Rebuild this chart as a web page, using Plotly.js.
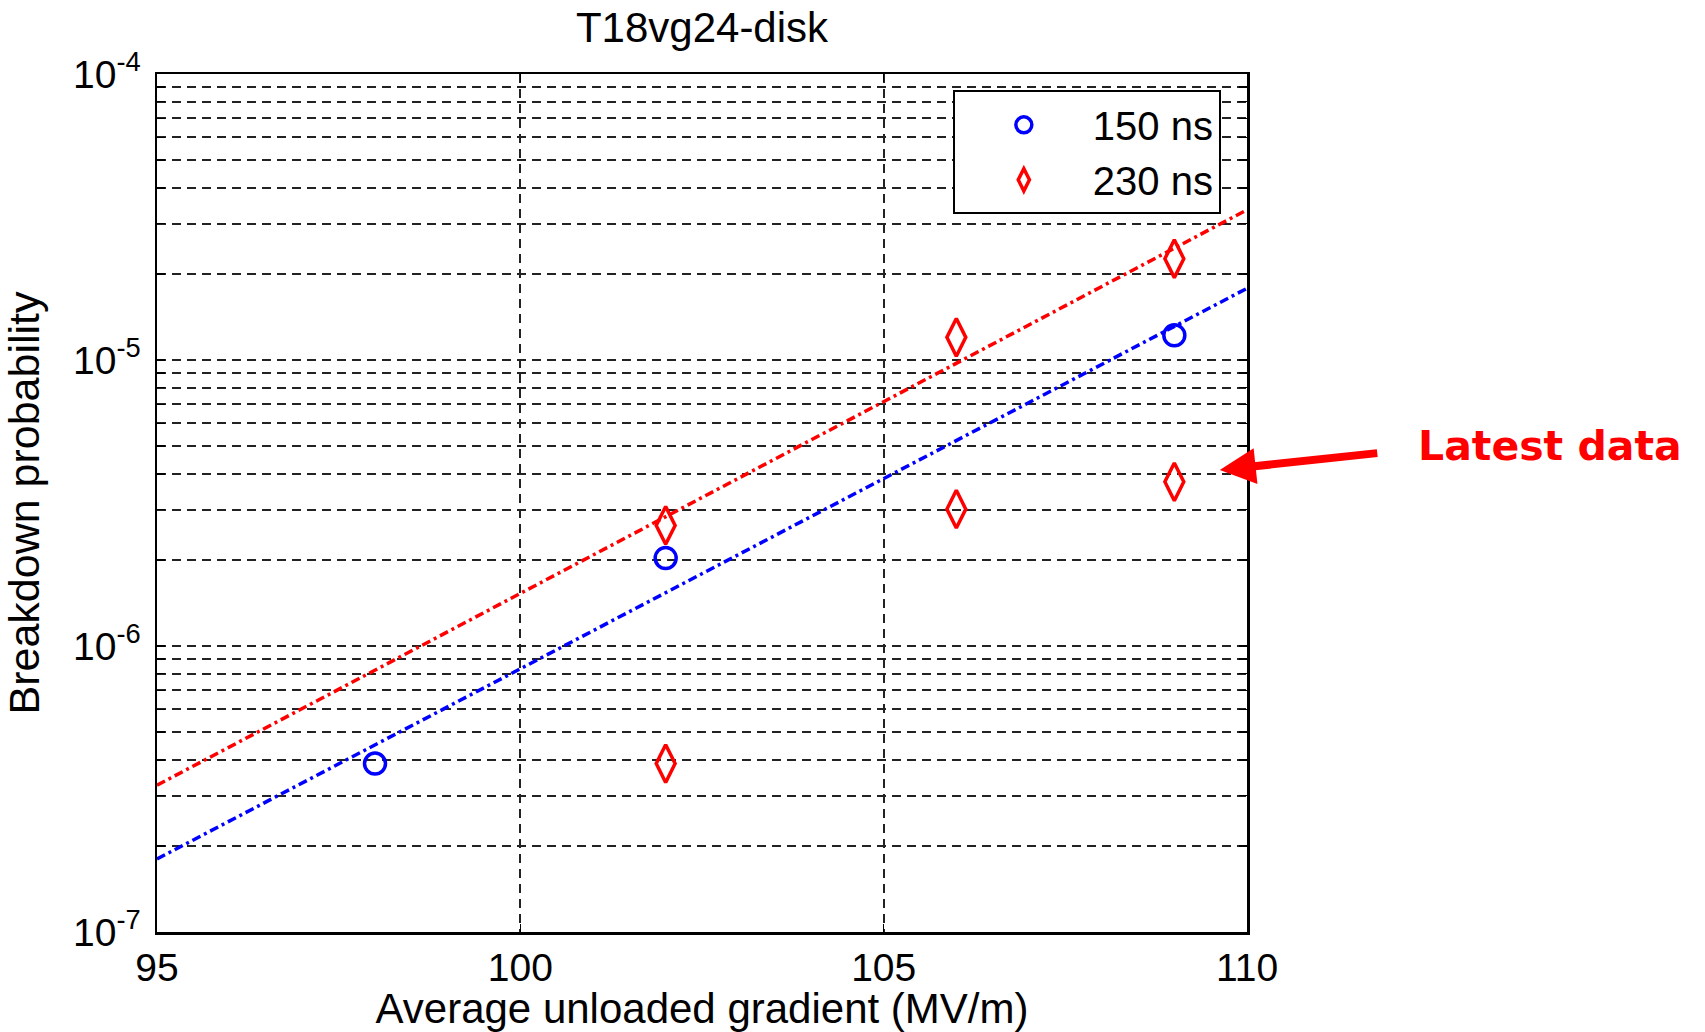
<!DOCTYPE html>
<html>
<head>
<meta charset="utf-8">
<script src="https://cdn.plot.ly/plotly-3.0.1.min.js"></script>
<style>html,body{margin:0;padding:0;background:#fff;}#chart{width:1705px;height:1032px;}</style>
</head>
<body>
<div id="chart"></div>
<script>
// ---- data ----
const x150 = [98, 102, 109];
const y150 = [3.88e-7, 2.03e-6, 1.22e-5];
const x230 = [102, 102, 106, 106, 109, 109];
const y230 = [2.64e-6, 3.88e-7, 1.20e-5, 3.01e-6, 2.26e-5, 3.75e-6];
const fitX = [95, 110];
const fit150 = [1.80e-7, 1.78e-5];
const fit230 = [3.26e-7, 3.35e-5];
const xTicks = [95, 100, 105, 110];
const decades = [-7, -6, -5, -4];
const legendNames = ['150 ns', '230 ns'];
const titleText = 'T18vg24-disk';
const xTitle = 'Average unloaded gradient (MV/m)';
const yTitle = 'Breakdown probability';
const noteText = 'Latest data';

// log-axis tick/grid values (decades plus 2..9 minor positions)
const yTickVals = [];
const yTickText = [];
decades.forEach((d, i) => {
  const mults = (i === decades.length - 1) ? [1] : [1,2,3,4,5,6,7,8,9];
  mults.forEach(m => {
    yTickVals.push(m * Math.pow(10, d));
    yTickText.push(m === 1 ? '10<sup>' + d + '</sup>' : '');
  });
});

const FONT = 'Liberation Sans, Arial, sans-serif';
const GRIDDASH = '9px,6px';
const FITDASH = '9px,4px,3px,4px';

const traces = [
  {x: fitX, y: fit150, mode: 'lines', line: {color: '#0000ff', width: 3.5, dash: FITDASH}, showlegend: false, hoverinfo: 'skip'},
  {x: fitX, y: fit230, mode: 'lines', line: {color: '#ff0000', width: 3.5, dash: FITDASH}, showlegend: false, hoverinfo: 'skip'},
  {x: x150, y: y150, mode: 'markers', name: legendNames[0],
   marker: {symbol: 'circle-open', size: 21, color: '#0000ff', line: {width: 3.5, color: '#0000ff'}}},
  {x: x230, y: y230, mode: 'markers', name: legendNames[1],
   marker: {symbol: 'diamond-tall-open', size: 27, color: '#ff0000', line: {width: 3.5, color: '#ff0000'}}}
];

const layout = {
  width: 1705, height: 1032,
  margin: {l: 157, r: 458, t: 74, b: 100},
  paper_bgcolor: '#ffffff', plot_bgcolor: '#ffffff',
  font: {family: FONT, color: '#000000', size: 38},
  title: {text: titleText, font: {family: FONT, size: 42, color: '#000'}, x: 0.5, xref: 'paper', xanchor: 'center',
          y: 1 - 27/1032, yref: 'container', yanchor: 'middle'},
  xaxis: {
    range: [95, 110], tickvals: xTicks, ticktext: xTicks.map(String),
    showgrid: true, gridcolor: '#222', griddash: GRIDDASH, gridwidth: 2,
    showline: true, linecolor: '#000', linewidth: 2.5, mirror: 'ticks',
    ticks: 'inside', ticklen: 8, tickcolor: '#000', tickwidth: 1.5,
    zeroline: false, tickfont: {family: FONT, size: 39},
    title: {text: xTitle, font: {family: FONT, size: 42}, standoff: 12}
  },
  yaxis: {
    type: 'log', range: [-7, -4], tickvals: yTickVals, ticktext: yTickText,
    showgrid: true, gridcolor: '#222', griddash: GRIDDASH, gridwidth: 2,
    showline: true, linecolor: '#000', linewidth: 2.5, mirror: 'ticks',
    ticks: 'inside', ticklen: 8, tickcolor: '#000', tickwidth: 1.5,
    zeroline: false, tickfont: {family: FONT, size: 39}, ticklabelstandoff: 6,
    title: {text: yTitle, font: {family: FONT, size: 43}, standoff: 20}
  },
  showlegend: true,
  legend: {
    x: 0.976, xanchor: 'right', y: 0.981, yanchor: 'top',
    bgcolor: '#ffffff', bordercolor: '#000', borderwidth: 2,
    font: {family: FONT, size: 40, color: '#000'}, itemwidth: 128
  },
  annotations: [
    {xref: 'paper', yref: 'paper', x: 1.278, y: 0.566, text: '<b>' + noteText + '</b>', showarrow: false,
     font: {family: 'DejaVu Sans, sans-serif', size: 41, color: '#ff0000'}, xanchor: 'center', yanchor: 'middle'},
    {xref: 'paper', yref: 'paper', x: 0.975, y: 0.5385, text: '', showarrow: true,
     ax: 159, ay: -17, arrowhead: 2, arrowsize: 0.9, arrowwidth: 8, arrowcolor: '#ff0000', standoff: 0}
  ]
};

Plotly.newPlot('chart', traces, layout, {displayModeBar: false, staticPlot: true});
</script>
</body>
</html>
